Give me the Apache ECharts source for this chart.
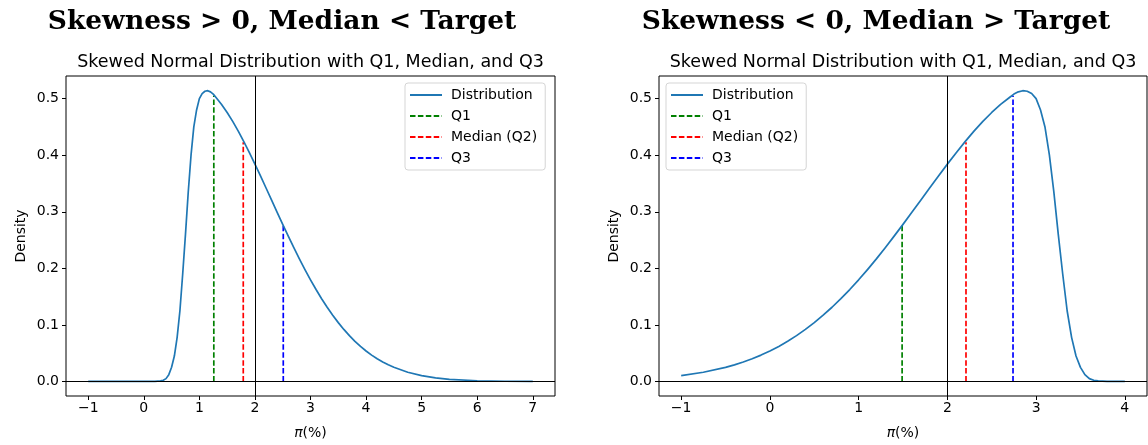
<!DOCTYPE html>
<html><head><meta charset="utf-8">
<script src="https://cdn.jsdelivr.net/npm/echarts@6/dist/echarts.min.js"></script>
<style>html,body{margin:0;padding:0;background:#fff;overflow:hidden}#c{width:1148px;height:445px}</style>
</head><body><div id="c"></div>
<script>
// ---- data ----
const leftX = [-1, -0.5, 0, 0.2, 0.3, 0.35, 0.4, 0.45, 0.5, 0.55, 0.6, 0.65, 0.7, 0.75, 0.8, 0.85, 0.9, 0.95, 1.0, 1.05, 1.1, 1.15, 1.2, 1.25, 1.3, 1.4, 1.5, 1.6, 1.7, 1.8, 1.9, 2.0, 2.1, 2.2, 2.3, 2.4, 2.5, 2.6, 2.7, 2.8, 2.9, 3.0, 3.1, 3.2, 3.3, 3.4, 3.5, 3.6, 3.7, 3.8, 3.9, 4.0, 4.1, 4.2, 4.3, 4.4, 4.5, 4.75, 5.0, 5.25, 5.5, 6.0, 6.5, 7.0];
const leftY = [0, 0, 0, 0, 0.001, 0.002, 0.005, 0.012, 0.025, 0.045, 0.078, 0.125, 0.19, 0.26, 0.335, 0.40, 0.45, 0.48, 0.50, 0.509, 0.513, 0.514, 0.512, 0.508, 0.502, 0.4897, 0.4755, 0.4598, 0.4425, 0.4240, 0.4045, 0.3842, 0.3633, 0.3420, 0.3205, 0.2990, 0.2777, 0.2569, 0.2365, 0.2167, 0.1978, 0.1797, 0.1625, 0.1463, 0.1312, 0.1171, 0.1040, 0.0920, 0.0810, 0.0710, 0.0620, 0.0539, 0.0466, 0.0401, 0.0344, 0.0294, 0.0250, 0.0163, 0.0104, 0.0064, 0.0038, 0.0013, 0.0004, 0.0001];
const rightX = [-1, -0.75, -0.5, -0.4, -0.3, -0.2, -0.1, 0, 0.1, 0.2, 0.3, 0.4, 0.5, 0.6, 0.7, 0.8, 0.9, 1.0, 1.1, 1.2, 1.3, 1.4, 1.5, 1.6, 1.7, 1.8, 1.9, 2.0, 2.1, 2.2, 2.3, 2.4, 2.5, 2.6, 2.7, 2.75, 2.8, 2.85, 2.9, 2.95, 3.0, 3.05, 3.1, 3.15, 3.2, 3.25, 3.3, 3.35, 3.4, 3.45, 3.5, 3.55, 3.6, 3.65, 3.7, 3.8, 4.0];
const rightY = [0.0104, 0.0163, 0.0250, 0.0294, 0.0344, 0.0401, 0.0466, 0.0539, 0.0620, 0.0710, 0.0810, 0.0920, 0.1040, 0.1171, 0.1312, 0.1463, 0.1625, 0.1797, 0.1978, 0.2167, 0.2365, 0.2569, 0.2777, 0.2990, 0.3205, 0.3420, 0.3633, 0.3842, 0.4045, 0.4240, 0.4425, 0.4598, 0.4755, 0.4897, 0.502, 0.508, 0.512, 0.514, 0.513, 0.509, 0.50, 0.48, 0.45, 0.40, 0.335, 0.26, 0.19, 0.125, 0.078, 0.045, 0.025, 0.012, 0.005, 0.002, 0.001, 0, 0];
const quartileNames = ['Q1', 'Median (Q2)', 'Q3'];
const leftQx = [1.26, 1.79, 2.51];
const leftQh = [0.505, 0.423, 0.276];
const rightQx = [1.49, 2.21, 2.74];
const rightQh = [0.276, 0.423, 0.505];
const target = 2;
const leftXTicks = [-1, 0, 1, 2, 3, 4, 5, 6, 7];
const rightXTicks = [-1, 0, 1, 2, 3, 4];
const yTicks = [0, 0.1, 0.2, 0.3, 0.4, 0.5];
const suptitles = ['Skewness > 0, Median < Target', 'Skewness < 0, Median > Target'];
const subtitle = 'Skewed Normal Distribution with Q1, Median, and Q3';
const yName = 'Density';
const legendNames = ['Distribution', 'Q1', 'Median (Q2)', 'Q3'];

// ---- styling ----
const FONT = 'DejaVu Sans';
const qColors = ['#008000', '#ff0000', '#0000ff'];
const minus = v => String(v).replace('-', '\u2212');

function xAxis(idx, min, max, ticks) {
  return {
    type: 'value', gridIndex: idx, min: min, max: max,
    axisLine: { show: false, onZero: false },
    axisTick: { show: true, customValues: ticks, length: 4, lineStyle: { color: '#000', width: 1 } },
    axisLabel: { customValues: ticks, formatter: v => minus(v), color: '#000', fontSize: 14, fontFamily: FONT, margin: 5 },
    splitLine: { show: false },
    name: '{i|π}(%)', nameLocation: 'middle', nameGap: 30,
    nameTextStyle: { color: '#000', fontSize: 14, fontFamily: FONT,
      rich: { i: { fontStyle: 'italic', fontSize: 14, fontFamily: FONT, color: '#000' } } }
  };
}
function yAxis(idx) {
  return {
    type: 'value', gridIndex: idx, min: -0.0257, max: 0.540,
    axisLine: { show: false, onZero: false },
    axisTick: { show: true, customValues: yTicks, length: 4, lineStyle: { color: '#000', width: 1 } },
    axisLabel: { customValues: yTicks, formatter: v => v.toFixed(1), color: '#000', fontSize: 14, fontFamily: FONT, margin: 7 },
    splitLine: { show: false },
    name: yName, nameLocation: 'middle', nameGap: 38,
    nameTextStyle: { color: '#000', fontSize: 14, fontFamily: FONT }
  };
}
function curve(idx, xs, ys) {
  return {
    name: 'Distribution', type: 'line', xAxisIndex: idx, yAxisIndex: idx,
    data: xs.map((x, i) => [x, ys[i]]), symbol: 'none', showSymbol: false,
    lineStyle: { color: '#1f77b4', width: 1.7, join: 'round' }, itemStyle: { color: '#1f77b4' }, z: 3,
    markLine: { silent: true, symbol: ['none', 'none'], animation: false,
      label: { show: false }, lineStyle: { color: '#000', width: 1, type: 'solid' },
      data: [{ xAxis: target }, { yAxis: 0 }] }
  };
}
function qLines(idx, qx, qh) {
  return qx.map((x, i) => ({
    name: quartileNames[i], type: 'line', xAxisIndex: idx, yAxisIndex: idx,
    data: [[x, 0], [x, qh[i]]], symbol: 'none', showSymbol: false, z: 2,
    lineStyle: { color: qColors[i], width: 1.7, type: [5.5, 2.4] }, itemStyle: { color: qColors[i] }
  }));
}
function legend(left) {
  return {
    left: left, top: 83, orient: 'vertical', data: legendNames,
    itemWidth: 32, itemHeight: 14, itemGap: 7, padding: [5, 8, 5, 4],
    borderColor: '#d5d5d5', borderWidth: 1, borderRadius: 3, backgroundColor: 'rgba(255,255,255,0.8)',
    itemStyle: { opacity: 0, borderWidth: 0 },
    textStyle: { color: '#000', fontSize: 14, fontFamily: FONT, padding: [0, 0, 0, 4] },
    selectedMode: false
  };
}
function txt(x, y, text, size, weight, family) {
  return { type: 'text', x: x, y: y, silent: true,
    style: { text: text, fontSize: size, fontWeight: weight, fontFamily: family, fill: '#000', align: 'center', verticalAlign: 'middle' } };
}

const chart = echarts.init(document.getElementById('c'));
chart.setOption({
  animation: false,
  backgroundColor: '#fff',
  grid: [
    { left: 66, top: 76, width: 489, height: 323, show: true, borderColor: '#000', borderWidth: 1, backgroundColor: 'transparent' },
    { left: 659, top: 76, width: 488, height: 323, show: true, borderColor: '#000', borderWidth: 1, backgroundColor: 'transparent' }
  ],
  xAxis: [xAxis(0, -1.4, 7.4, leftXTicks), xAxis(1, -1.25, 4.25, rightXTicks)],
  yAxis: [yAxis(0), yAxis(1)],
  legend: [legend(405), legend(666)],
  series: [
    curve(0, leftX, leftY), ...qLines(0, leftQx, leftQh),
    curve(1, rightX, rightY), ...qLines(1, rightQx, rightQh)
  ],
  graphic: [
    txt(282, 22, suptitles[0], 26.5, 'bold', 'DejaVu Serif'),
    txt(876, 22, suptitles[1], 26.5, 'bold', 'DejaVu Serif'),
    txt(310.5, 62, subtitle, 17.5, 'normal', FONT),
    txt(903, 62, subtitle, 17.5, 'normal', FONT)
  ]
});
</script></body></html>
